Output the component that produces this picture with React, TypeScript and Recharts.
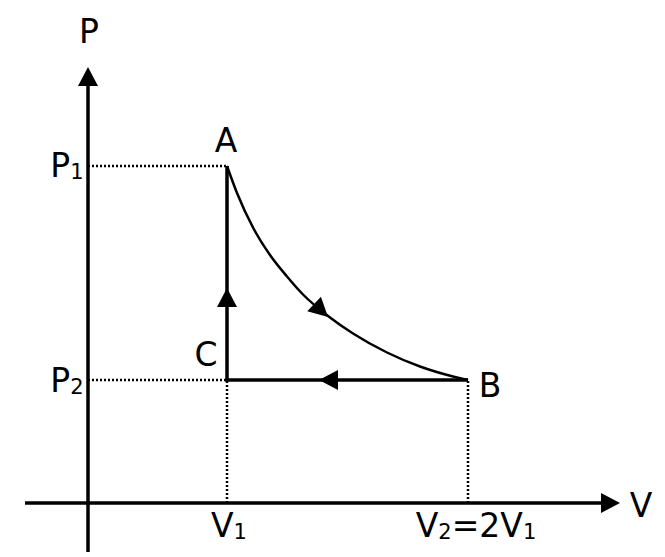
import React from 'react'
import { ComposedChart, Line, Scatter, XAxis, YAxis, ReferenceLine } from 'recharts'

// volumes / pressures in drawing units
const V1 = 13.9
const V2 = 38.0
const P1 = 33.7
const P2 = 12.3

// isothermal A -> B
const isothermV = [13.9, 14.9, 16.5, 18.2, 19.9, 21.5, 24.2, 26.5, 29.9, 33.2, 36.5, 38.0]
const isothermP = [33.7, 31.0, 27.55, 24.8, 22.65, 20.85, 18.55, 16.95, 15.05, 13.65, 12.65, 12.3]

// isobaric B -> C then isochoric C -> A
const cycleV = [V2, V1, V1]
const cycleP = [P2, P2, P1]

// direction arrows (tip position + heading in degrees, 0 = right, 90 = down)
const arrowV = [0, 53.2, V1, 23.1, 24.0]
const arrowP = [43.6, 0, 21.5, P2, 18.6]
const arrowHeading = [-90, 0, -90, 180, 43]

const labelText = ['P', 'A', 'P₁', 'P₂', 'C', 'B', 'V', 'V₁', 'V₂=2V₁']
const labelV = [0.1, 13.8, -2.1, -2.1, 11.8, 40.2, 55.3, 14.1, 38.8]
const labelP = [46.0, 35.1, 32.6, 11.1, 13.7, 10.6, -1.4, -3.4, -3.4]

const isotherm = isothermV.map((x, i) => ({ x, y: isothermP[i] }))
const cycle = cycleV.map((x, i) => ({ x, y: cycleP[i] }))
const arrows = arrowV.map((x, i) => ({ x, y: arrowP[i], heading: arrowHeading[i] }))
const labels = labelText.map((t, i) => ({ x: labelV[i], y: labelP[i], t }))

const SUBS: Record<string, string> = { '₁': '1', '₂': '2' }

const ArrowHead = (props: any) => {
  const { cx, cy, payload } = props
  const a = (payload.heading * Math.PI) / 180
  const len = 19
  const hw = 10
  const dx = Math.cos(a), dy = Math.sin(a)
  const bx = cx - dx * len, by = cy - dy * len
  const pts = [
    [cx, cy],
    [bx - dy * hw, by + dx * hw],
    [bx + dy * hw, by - dx * hw],
  ]
  return <polygon points={pts.map(p => p.join(',')).join(' ')} fill="#000" />
}

const Label = (props: any) => {
  const { cx, cy, payload } = props
  const parts: { s: string; sub: boolean }[] = []
  for (const ch of payload.t) {
    const sub = ch in SUBS
    const s = sub ? SUBS[ch] : ch
    const last = parts[parts.length - 1]
    if (last && last.sub === sub) last.s += s
    else parts.push({ s, sub })
  }
  let shift = 0
  return (
    <text x={cx} y={cy} textAnchor="middle" fontFamily="'DejaVu Sans', Verdana, sans-serif" fontSize={33} fill="#000">
      {parts.map((p, i) => {
        const target = p.sub ? 2 : 0
        const d = target - shift
        shift = target
        return (
          <tspan key={i} dy={d} fontSize={p.sub ? 21 : 33}>{p.s}</tspan>
        )
      })}
    </text>
  )
}

const dotted = { stroke: '#000', strokeWidth: 2.5, strokeDasharray: '2 2' }

export default function App() {
  return (
    <div style={{ position: 'absolute', left: 0, top: 0, width: 665, height: 557, background: '#fff' }}>
      <ComposedChart width={665} height={557} margin={{ top: 0, right: 0, bottom: 0, left: 0 }}>
        <XAxis type="number" dataKey="x" domain={[-8.8, 57.7]} hide allowDataOverflow />
        <YAxis type="number" dataKey="y" domain={[-5.4, 50.3]} hide allowDataOverflow />

        {/* guide lines */}
        <ReferenceLine segment={[{ x: 0, y: P1 }, { x: V1, y: P1 }]} {...dotted} />
        <ReferenceLine segment={[{ x: 0, y: P2 }, { x: V1, y: P2 }]} {...dotted} />
        <ReferenceLine segment={[{ x: V1, y: 0 }, { x: V1, y: P2 }]} {...dotted} />
        <ReferenceLine segment={[{ x: V2, y: 0 }, { x: V2, y: P2 }]} {...dotted} />

        {/* axes */}
        <ReferenceLine segment={[{ x: 0, y: -4.9 }, { x: 0, y: 42 }]} stroke="#000" strokeWidth={3.5} />
        <ReferenceLine segment={[{ x: -6.3, y: 0 }, { x: 52, y: 0 }]} stroke="#000" strokeWidth={3.5} />

        <Line data={cycle} dataKey="y" type="linear" stroke="#000" strokeWidth={3.5} dot={false} activeDot={false} isAnimationActive={false} />
        <Line data={isotherm} dataKey="y" type="monotoneX" stroke="#000" strokeWidth={2.5} dot={false} activeDot={false} isAnimationActive={false} />

        <Scatter data={arrows} dataKey="y" shape={ArrowHead} isAnimationActive={false} />
        <Scatter data={labels} dataKey="y" shape={Label} isAnimationActive={false} />
      </ComposedChart>
    </div>
  )
}
